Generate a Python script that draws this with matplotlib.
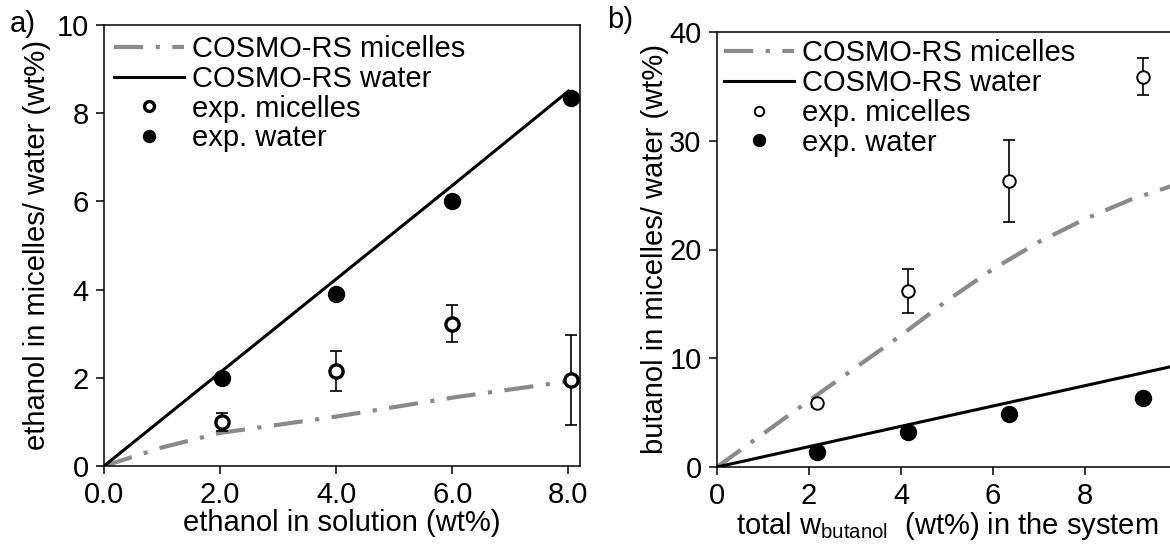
import matplotlib
matplotlib.use("Agg")
import matplotlib.pyplot as plt

plt.rcParams["font.family"] = ["Liberation Sans", "DejaVu Sans"]
plt.rcParams["mathtext.fontset"] = "custom"
plt.rcParams["mathtext.rm"] = "Liberation Sans"
FS = 21
plt.rcParams["font.size"] = FS

# a) ethanol
eth_model_x = [0, 2, 4, 6, 8]
eth_model_water = [0, 2.12, 4.24, 6.36, 8.5]
eth_model_mic_x = [0, 1, 2, 4, 6, 8]
eth_model_mic = [0, 0.42, 0.75, 1.12, 1.55, 1.92]
eth_exp_x = [2.03, 4.0, 6.0, 8.05]
eth_exp_water = [2.0, 3.9, 6.0, 8.35]
eth_exp_mic = [1.0, 2.15, 3.23, 1.95]
eth_exp_mic_err = [0.2, 0.45, 0.41, 1.02]

# b) butanol
but_model_x = [0, 10]
but_model_water = [0, 9.35]
but_model_mic_x = [0, 2, 4, 5, 6, 7, 8, 9, 10]
but_model_mic = [0, 6.1, 12.1, 15.3, 18.2, 20.7, 22.8, 24.6, 26.0]
but_exp_x = [2.17, 4.15, 6.35, 9.26]
but_exp_water = [1.4, 3.25, 4.9, 6.3]
but_exp_mic = [5.85, 16.2, 26.3, 35.9]
but_exp_mic_err = [0.3, 2.0, 3.8, 1.7]

GREY = "#8a8a8a"
DASHDOT = (0, (7, 3, 1, 3))


def draw_panel(ax, mx, mwater, mmx, mmic, ex, ewater, emic, emic_err,
               open_ms, open_mew, legend_pad):
    ax.plot(mmx, mmic, color=GREY, lw=3, linestyle=DASHDOT,
            dash_capstyle="butt", label="COSMO-RS micelles", zorder=2)
    ax.plot(mx, mwater, color="black", lw=2.2, label="COSMO-RS water", zorder=2)
    ax.errorbar(ex, emic, yerr=emic_err, fmt="none", ecolor="black",
                elinewidth=1.2, capsize=4, capthick=1.2, zorder=3)
    ax.plot(ex, emic, "o", ms=open_ms, mfc="white", mec="black", mew=open_mew,
            linestyle="none", label="exp. micelles", zorder=4)
    ax.plot(ex, ewater, "o", ms=11.5, color="black", linestyle="none",
            label="exp. water", zorder=4)
    for s in ax.spines.values():
        s.set_linewidth(1.1)
    ax.tick_params(direction="out", length=6, width=1.1, labelsize=FS, pad=5)
    ax.legend(loc="upper left", frameon=False, fontsize=FS, handlelength=2.4,
              handletextpad=0.25, labelspacing=0.06, borderaxespad=legend_pad,
              borderpad=0.25, markerscale=0.75)


fig = plt.figure(figsize=(11.7, 5.47), dpi=100)

ax1 = fig.add_axes([104 / 1170, 81 / 547, 476 / 1170, 441 / 547])
draw_panel(ax1, eth_model_x, eth_model_water, eth_model_mic_x, eth_model_mic,
           eth_exp_x, eth_exp_water, eth_exp_mic, eth_exp_mic_err,
           open_ms=9.5, open_mew=2.4, legend_pad=0.1)
ax1.set_xlim(0, 8.2)
ax1.set_ylim(0, 10)
ax1.set_xticks([0, 2, 4, 6, 8])
ax1.set_xticklabels(["0.0", "2.0", "4.0", "6.0", "8.0"])
ax1.set_yticks([0, 2, 4, 6, 8, 10])
ax1.set_xlabel("ethanol in solution (wt%)", fontsize=FS, labelpad=0)
ax1.set_ylabel("ethanol in micelles/ water (wt%)", fontsize=FS, labelpad=4)
fig.text(10 / 1170, 1 - 24 / 547, "a)", fontsize=FS, va="center", ha="left")

ax2 = fig.add_axes([717 / 1170, 80 / 547, 460 / 1170, 435 / 547])
draw_panel(ax2, but_model_x, but_model_water, but_model_mic_x, but_model_mic,
           but_exp_x, but_exp_water, but_exp_mic, but_exp_mic_err,
           open_ms=9, open_mew=1.4, legend_pad=0.0)
ax2.set_xlim(0, 10)
ax2.set_ylim(0, 40)
ax2.set_xticks([0, 2, 4, 6, 8])
ax2.set_yticks([0, 10, 20, 30, 40])
ax2.set_xlabel(r"total w$_{\mathrm{butanol}}$  (wt%) in the system",
               fontsize=FS, labelpad=0)
ax2.set_ylabel("butanol in micelles/ water (wt%)", fontsize=FS, labelpad=0)
fig.text(607 / 1170, 1 - 20 / 547, "b)", fontsize=FS, va="center", ha="left")

fig.savefig("out.png", dpi=100)
